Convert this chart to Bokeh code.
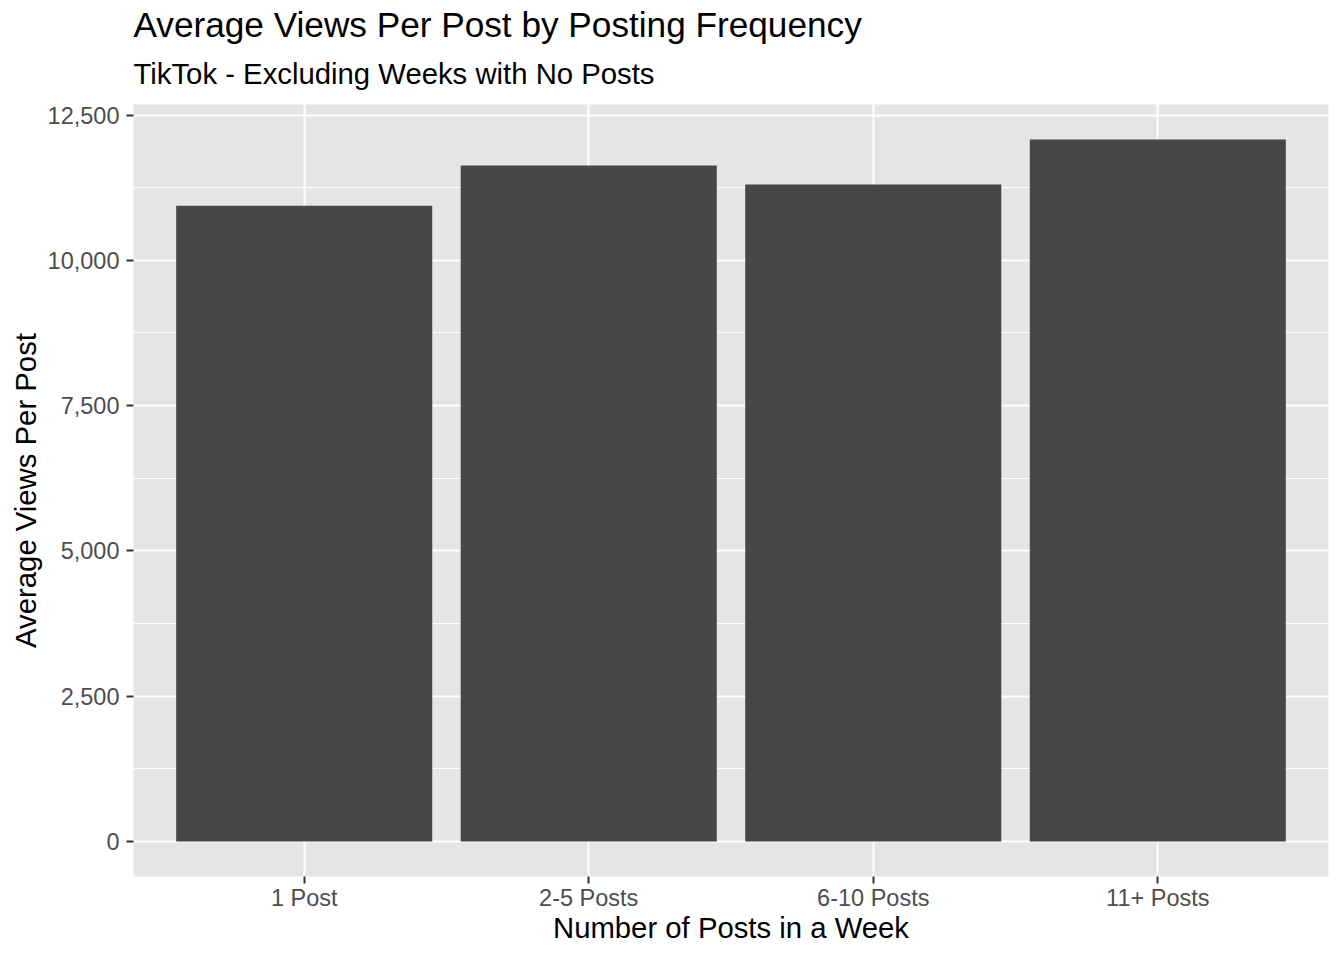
from bokeh.plotting import figure
from bokeh.layouts import row, column
from bokeh.models import FactorRange, Range1d, FixedTicker, NumeralTickFormatter, Title, ColumnDataSource, Spacer
from bokeh.embed import file_html
from bokeh.resources import INLINE

# ---- data ----
categories = ["1 Post", "2-5 Posts", "6-10 Posts", "11+ Posts"]
avg_views = [10940, 11633, 11306, 12077]
y_ticks = [0, 2500, 5000, 7500, 10000, 12500]
y_minor_ticks = [1250, 3750, 6250, 8750, 11250]

title_text = "Average Views Per Post by Posting Frequency"
subtitle_text = "TikTok - Excluding Weeks with No Posts"
x_label = "Number of Posts in a Week"
y_label = "Average Views Per Post"

FONT = "Liberation Sans"
PANEL = "#E5E5E5"
BAR = "#474747"

ymax = max(avg_views)
source = ColumnDataSource(dict(cat=categories, views=avg_views))

p = figure(
    title=None,
    x_range=FactorRange(factors=categories, range_padding=0.1, range_padding_units="absolute"),
    y_range=Range1d(-0.05 * ymax, 1.05 * ymax),
    frame_width=1195, frame_height=772,
    min_border_left=0, min_border_right=5, min_border_top=0, min_border_bottom=0,
    output_backend="svg", toolbar_location=None,
)
p.background_fill_color = PANEL
p.border_fill_color = "white"
p.outline_line_color = None

p.vbar(x="cat", top="views", bottom=0, width=0.9, source=source,
       fill_color=BAR, line_color=None)

# grids
p.xgrid.grid_line_color = "white"
p.xgrid.grid_line_width = 2
p.ygrid.grid_line_color = "white"
p.ygrid.grid_line_width = 2
p.ygrid.minor_grid_line_color = "white"
p.ygrid.minor_grid_line_width = 1

# y axis
p.yaxis.ticker = FixedTicker(ticks=y_ticks, minor_ticks=y_minor_ticks)
p.yaxis.formatter = NumeralTickFormatter(format="0,0")

for ax in (p.xaxis[0], p.yaxis[0]):
    ax.axis_line_color = None
    ax.major_tick_out = 7
    ax.major_tick_in = 0
    ax.major_tick_line_color = "#333333"
    ax.major_tick_line_width = 2
    ax.minor_tick_out = 0
    ax.minor_tick_in = 0
    ax.major_label_text_font = FONT
    ax.major_label_text_font_size = "23.5px"
    ax.major_label_text_color = "#4D4D4D"
    ax.axis_label_text_font = FONT
    ax.axis_label_text_font_size = "29.3px"
    ax.axis_label_text_font_style = "normal"
    ax.axis_label_text_color = "black"

p.xaxis.axis_label = x_label
p.yaxis.axis_label = y_label
p.xaxis.major_label_standoff = 1
p.xaxis.axis_label_standoff = -3
p.yaxis.major_label_standoff = 7
p.yaxis.axis_label_standoff = 3

p.add_layout(Title(text=subtitle_text, text_font=FONT, text_font_size="29.3px",
                   text_font_style="normal", text_color="black", align="left",
                   standoff=29), "above")
p.add_layout(Title(text=title_text, text_font=FONT, text_font_size="35.2px",
                   text_font_style="normal", text_color="black", align="left",
                   standoff=-7), "above")

page = column(Spacer(width=10, height=6), row(Spacer(width=5, height=10), p))

open("out.html", "w").write(file_html(page, INLINE))
